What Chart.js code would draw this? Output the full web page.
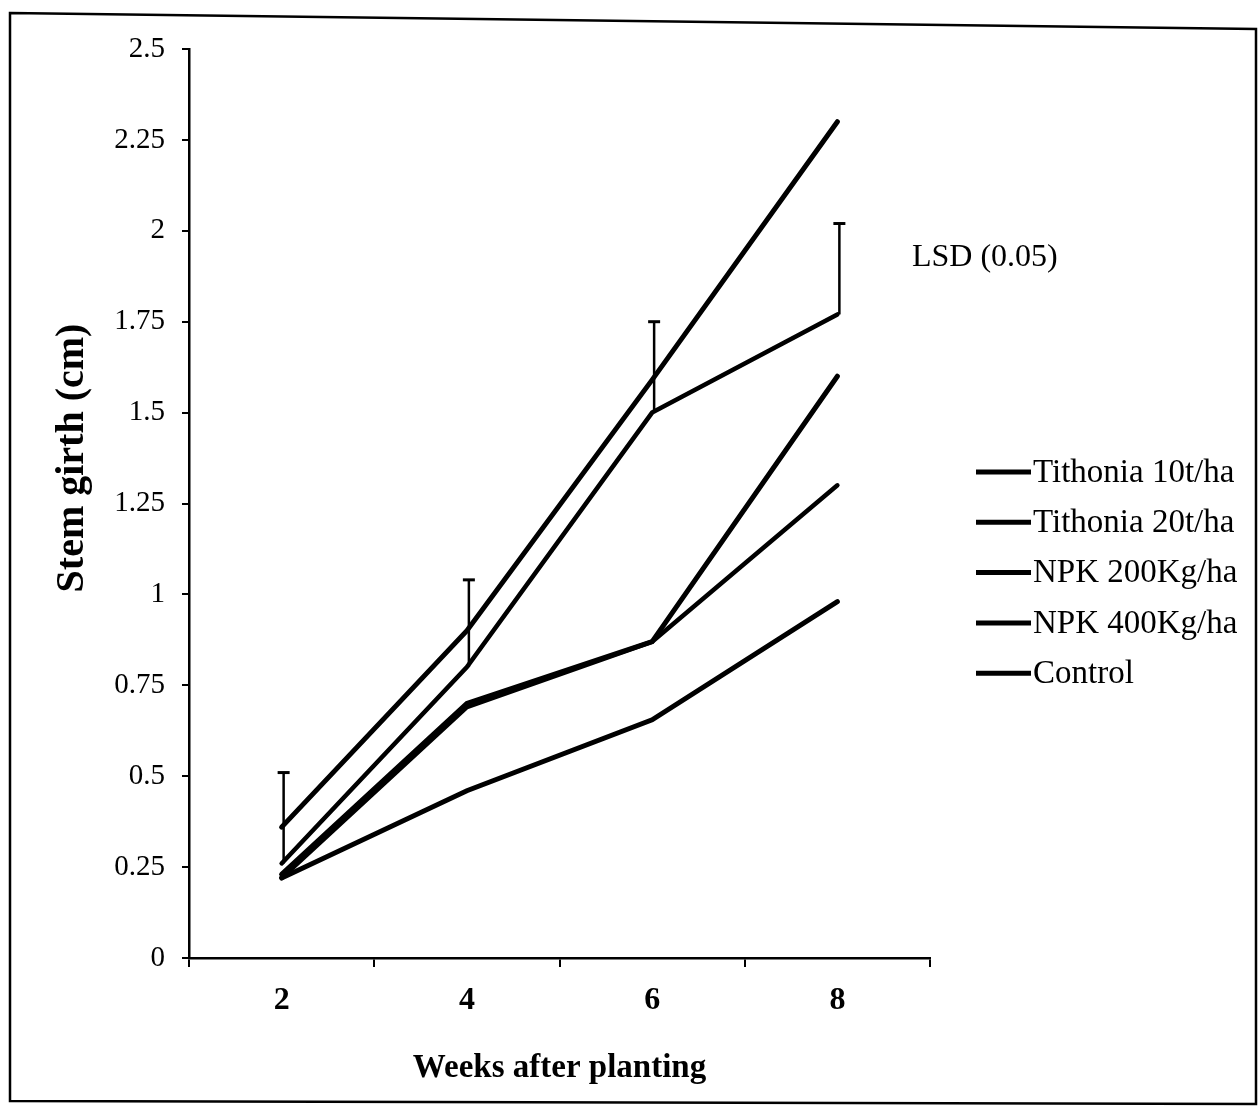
<!DOCTYPE html>
<html>
<head>
<meta charset="utf-8">
<script src="https://cdn.jsdelivr.net/npm/chart.js@4/dist/chart.umd.min.js"></script>
<style>
html, body { margin: 0; padding: 0; background: #fff; }
#wrap { width: 1259px; height: 1118px; position: relative; }
</style>
</head>
<body>
<div id="wrap"><canvas id="chart"></canvas></div>
<script>
// values
var weeks = ['2', '4', '6', '8'];
var seriesNames = ['Tithonia 10t/ha', 'Tithonia 20t/ha', 'NPK 200Kg/ha', 'NPK 400Kg/ha', 'Control'];
var tithonia10 = [0.26, 0.80, 1.50, 1.77];
var tithonia20 = [0.36, 0.90, 1.59, 2.30];
var npk200 = [0.22, 0.69, 0.87, 1.30];
var npk400 = [0.23, 0.70, 0.87, 1.60];
var control = [0.22, 0.46, 0.655, 0.98];
var lsd = [0.25, 0.24, 0.25, 0.25];
var yTickLabels = ['0', '0.25', '0.5', '0.75', '1', '1.25', '1.5', '1.75', '2', '2.25', '2.5'];
var yTitle = 'Stem girth (cm)';

var serif = '"Liberation Serif", "Times New Roman", serif';

function makeSet(label, data, width) {
  return {
    label: label,
    data: data,
    borderColor: '#000',
    backgroundColor: '#000',
    borderWidth: width,
    pointRadius: 0,
    tension: 0,
    borderCapStyle: 'round',
    borderJoinStyle: 'miter',
    fill: false
  };
}

// page frame round the figure
var framePlugin = {
  id: 'frame',
  beforeDraw: function (chart) {
    var ctx = chart.ctx;
    ctx.save();
    ctx.fillStyle = '#fff';
    ctx.fillRect(0, 0, chart.width, chart.height);
    ctx.strokeStyle = '#000';
    ctx.lineWidth = 2.5;
    ctx.beginPath();
    ctx.moveTo(10, 13);
    ctx.lineTo(1256, 29);
    ctx.lineTo(1256, 1104);
    ctx.lineTo(10, 1101);
    ctx.closePath();
    ctx.stroke();
    ctx.restore();
  }
};

// LSD bars standing on the Tithonia 10t/ha line
var lsdPlugin = {
  id: 'lsdBars',
  afterDatasetsDraw: function (chart) {
    var ctx = chart.ctx;
    var xs = chart.scales.x, ys = chart.scales.y;
    ctx.save();
    ctx.strokeStyle = '#000';
    for (var i = 0; i < weeks.length; i++) {
      var x = xs.getPixelForValue(i) + 2;
      var y0 = ys.getPixelForValue(tithonia10[i]);
      var y1 = ys.getPixelForValue(tithonia10[i] + lsd[i]);
      ctx.lineWidth = 2.5;
      ctx.beginPath();
      ctx.moveTo(x, y0);
      ctx.lineTo(x, y1);
      ctx.stroke();
      ctx.lineWidth = 3;
      ctx.beginPath();
      ctx.moveTo(x - 6, y1);
      ctx.lineTo(x + 6, y1);
      ctx.stroke();
    }
    ctx.restore();
  }
};

// legend at the right, the LSD note and the y title (sits above centre in the scan)
var sideLegend = {
  id: 'sideLegend',
  afterDraw: function (chart) {
    var ctx = chart.ctx;
    ctx.save();
    ctx.fillStyle = '#000';
    ctx.strokeStyle = '#000';
    ctx.textBaseline = 'middle';
    ctx.textAlign = 'left';
    ctx.font = '33px ' + serif;
    chart.data.datasets.forEach(function (ds, i) {
      var y = 472 + i * 50.3;
      ctx.lineWidth = 5;
      ctx.beginPath();
      ctx.moveTo(976, y);
      ctx.lineTo(1031, y);
      ctx.stroke();
      ctx.fillText(ds.label, 1033, y + 1);
    });
    ctx.font = '32px ' + serif;
    ctx.fillText('LSD (0.05)', 912, 258);

    ctx.translate(73, 458);
    ctx.rotate(-Math.PI / 2);
    ctx.textAlign = 'center';
    ctx.font = 'bold 40px ' + serif;
    ctx.fillText(yTitle, 0, 0);
    ctx.restore();
  }
};

new Chart(document.getElementById('chart'), {
  type: 'line',
  data: {
    labels: weeks,
    datasets: [
      makeSet(seriesNames[0], tithonia10, 4.5),
      makeSet(seriesNames[1], tithonia20, 5),
      makeSet(seriesNames[2], npk200, 4.5),
      makeSet(seriesNames[3], npk400, 5),
      makeSet(seriesNames[4], control, 5)
    ]
  },
  options: {
    responsive: true,
    maintainAspectRatio: false,
    animation: false,
    events: [],
    layout: { padding: { left: 0, top: 49, right: 329, bottom: 0 } },
    plugins: {
      legend: { display: false },
      tooltip: { enabled: false }
    },
    scales: {
      x: {
        type: 'category',
        offset: true,
        afterFit: function (s) { s.height = 160; },
        border: { color: '#000', width: 2.5 },
        grid: { offset: true, drawOnChartArea: false, drawTicks: true, tickLength: 9, color: '#000', lineWidth: 2 },
        ticks: { color: '#000', padding: 15, maxRotation: 0, font: { family: serif, size: 32, weight: 'bold' } },
        title: {
          display: true,
          text: 'Weeks after planting',
          color: '#000',
          padding: { top: 0, bottom: 30 },
          font: { family: serif, size: 33, weight: 'bold' }
        }
      },
      y: {
        min: 0,
        max: 2.5,
        afterFit: function (s) { s.width = 189; },
        border: { color: '#000', width: 2.5 },
        grid: { drawOnChartArea: false, drawTicks: true, tickLength: 7, color: '#000', lineWidth: 2 },
        ticks: {
          stepSize: 0.25,
          color: '#000',
          padding: 17,
          font: { family: serif, size: 29 },
          callback: function (v, i) { return yTickLabels[i]; }
        }
      }
    }
  },
  plugins: [framePlugin, lsdPlugin, sideLegend]
});
</script>
</body>
</html>
